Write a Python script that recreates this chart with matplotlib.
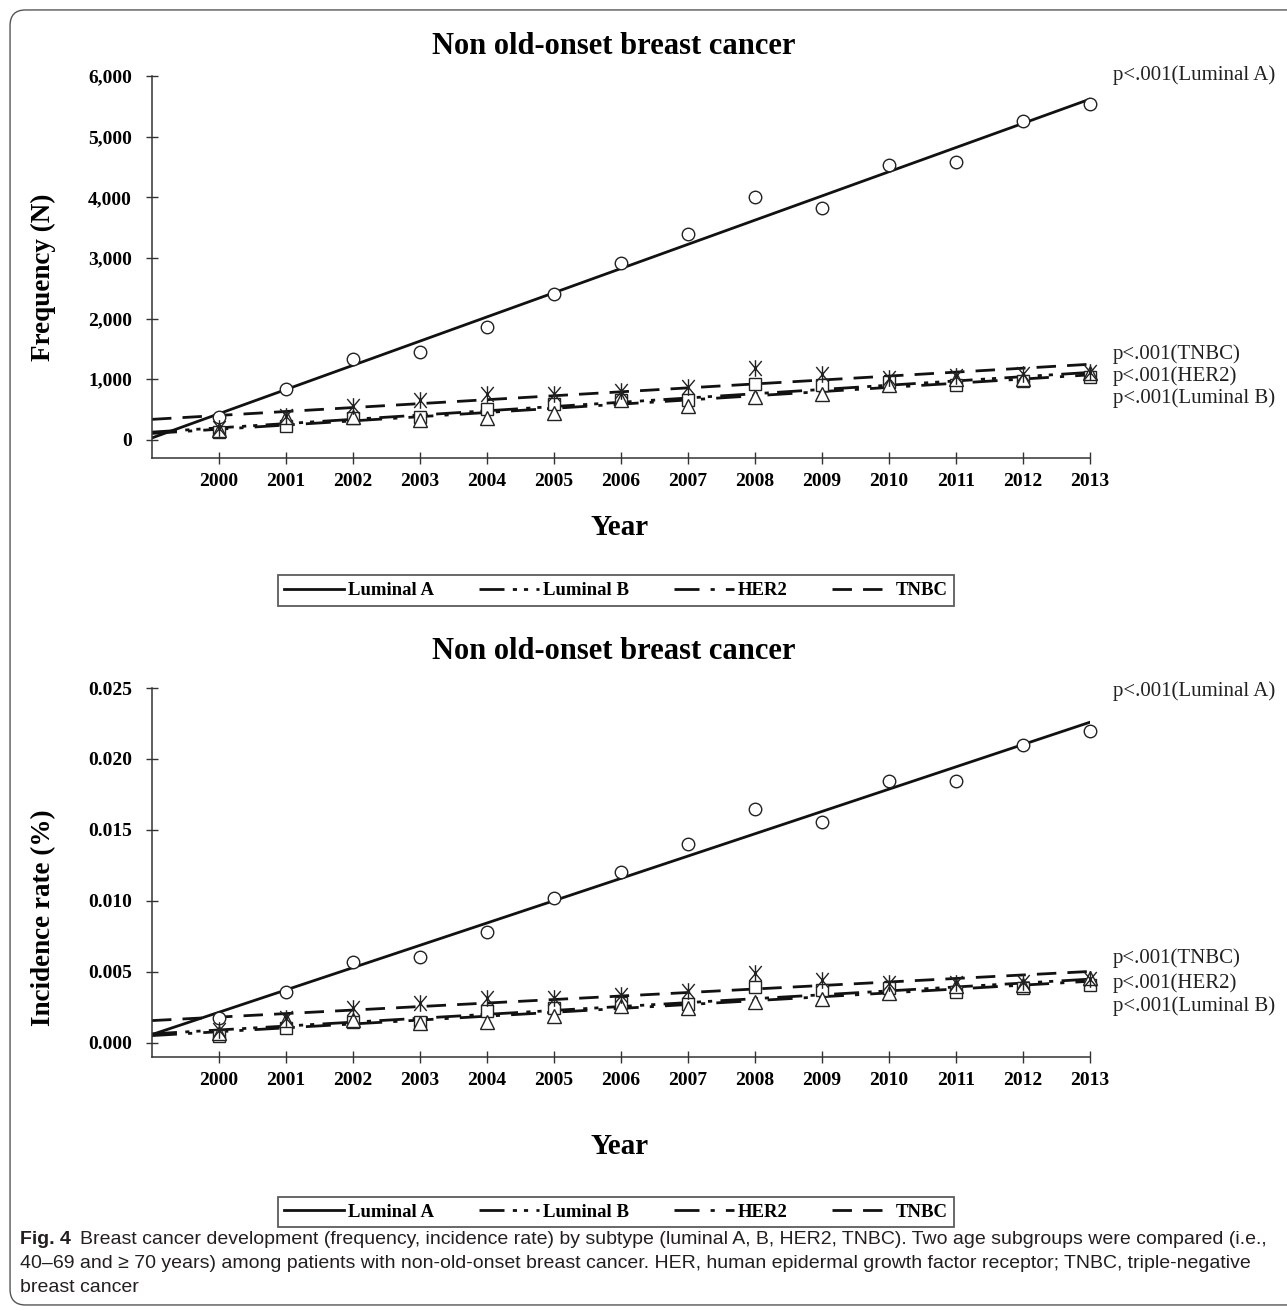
import matplotlib
matplotlib.use("Agg")
import matplotlib.pyplot as plt
import numpy as np
from matplotlib.lines import Line2D
from matplotlib.patches import FancyBboxPatch
from matplotlib.path import Path
from matplotlib.ticker import StrMethodFormatter

plt.rcParams['font.family'] = ['Liberation Serif', 'DejaVu Serif']

years = np.arange(2000, 2014)
subtypes = ['Luminal A', 'Luminal B', 'HER2', 'TNBC']

# frequency (N)
freq_lum_a = [382, 847, 1339, 1448, 1858, 2410, 2920, 3400, 4000, 3820, 4540, 4590, 5260, 5540]
freq_lum_b = [126, 230, 355, 372, 503, 585, 656, 656, 929, 902, 956, 900, 967, 1040]
freq_her2 = [170, 370, 383, 328, 355, 448, 650, 557, 710, 754, 900, 1000, 1011, 1100]
freq_tnbc = [202, 400, 557, 656, 749, 754, 809, 874, 1186, 1082, 1020, 1060, 1082, 1120]

# incidence rate (%)
inc_lum_a = [0.00174, 0.00361, 0.00573, 0.00608, 0.00784, 0.01019, 0.01207, 0.01401,
             0.01648, 0.01559, 0.01847, 0.01847, 0.02099, 0.02197]
inc_lum_b = [0.00045, 0.00103, 0.00150, 0.00150, 0.00225, 0.00249, 0.00278, 0.00275,
             0.00392, 0.00373, 0.00385, 0.00361, 0.00385, 0.00408]
inc_her2 = [0.00070, 0.00162, 0.00162, 0.00139, 0.00150, 0.00190, 0.00258, 0.00244,
            0.00291, 0.00308, 0.00350, 0.00400, 0.00410, 0.00456]
inc_tnbc = [0.00094, 0.00174, 0.00244, 0.00284, 0.00315, 0.00315, 0.00335, 0.00368,
            0.00495, 0.00444, 0.00420, 0.00425, 0.00432, 0.00449]

p_labels = ['p<.001(Luminal A)', 'p<.001(Luminal B)', 'p<.001(HER2)', 'p<.001(TNBC)']

# "Ж"-like asterisk: vertical stroke plus an X
star = Path([(0, -1), (0, 1), (-0.75, -0.9), (0.75, 0.9), (-0.75, 0.9), (0.75, -0.9)],
            [Path.MOVETO, Path.LINETO] * 3)
markers = ['o', 's', '^', star]
msizes = [9, 9, 10, 12]
styles = ['-', (0, (9, 3, 1.5, 2.5, 1.5, 3)), (0, (9, 4, 1.5, 4)), (0, (7, 4))]

fig = plt.figure(figsize=(12.87, 13.11), dpi=100)

# outer rounded frame
frame = FancyBboxPatch((0.0078, 0.0046), 1.05, 0.9878, boxstyle="round,pad=0,rounding_size=0.012",
                       transform=fig.transFigure, fill=False, edgecolor='#555555', linewidth=1.0)
fig.patches.append(frame)


def draw_panel(ax, series, ylim, yticks, fmt, ylabel, label_y, ylabel_y, xlabel_y, title_y):
    xs = np.array([1999, 2013])
    for vals, m, ms, ls in zip(series, markers, msizes, styles):
        ax.plot(years, vals, linestyle='none', marker=m, markersize=ms, markerfacecolor='white',
                markeredgecolor='#222222', markeredgewidth=1.0, zorder=3, clip_on=False)
        k, b = np.polyfit(years, vals, 1)
        ax.plot(xs, k * xs + b, color='#111111', linestyle=ls, linewidth=2.0, zorder=2)
    ax.set_xlim(1999, 2013)
    ax.set_ylim(*ylim)
    ax.set_xticks(years)
    ax.set_yticks(yticks)
    ax.yaxis.set_major_formatter(StrMethodFormatter(fmt))
    for s in ['top', 'right']:
        ax.spines[s].set_visible(False)
    for s in ['left', 'bottom']:
        ax.spines[s].set_linewidth(1.1)
        ax.spines[s].set_color('#333333')
    ax.tick_params(axis='both', direction='inout', length=9, width=1.0, color='#333333')
    ax.tick_params(axis='y', pad=10)
    ax.tick_params(axis='x', pad=6)
    for lab in ax.get_xticklabels() + ax.get_yticklabels():
        lab.set_fontweight('bold')
        lab.set_fontsize(14)
    ax.set_ylabel(ylabel, fontsize=19.5, fontweight='bold')
    ax.yaxis.set_label_coords(-0.102, ylabel_y)
    ax.set_xlabel('Year', fontsize=21, fontweight='bold')
    ax.xaxis.set_label_coords(0.499, xlabel_y)
    ax.text(0.4925, title_y, 'Non old-onset breast cancer', transform=ax.transAxes,
            ha='center', va='center', fontsize=22, fontweight='bold')
    for txt, yy in zip(p_labels, label_y):
        ax.text(1.0245, yy, txt, transform=ax.transAxes, ha='left', va='center',
                fontsize=15, color='#222222')


ax1 = fig.add_axes([0.1181, 0.6506, 0.7288, 0.2914])
draw_panel(ax1, [freq_lum_a, freq_lum_b, freq_her2, freq_tnbc], (-300, 6000),
           np.arange(0, 6001, 1000), '{x:,.0f}', 'Frequency (N)',
           [1.0026, 0.157, 0.2147, 0.272], 0.474, -0.1466, 1.078)

ax2 = fig.add_axes([0.1181, 0.1937, 0.7288, 0.2815])
draw_panel(ax2, [inc_lum_a, inc_lum_b, inc_her2, inc_tnbc], (-0.001, 0.025),
           np.arange(0, 0.0251, 0.005), '{x:.3f}', 'Incidence rate (%)',
           [0.9919, 0.1382, 0.2005, 0.2683], 0.379, -0.206, 1.0976)

handles = [Line2D([], [], color='#111111', linestyle=ls, linewidth=2.0) for ls in styles]
for yc in [0.5495, 0.0755]:
    leg = fig.legend(handles, subtypes, loc='center', bbox_to_anchor=(0.4786, yc), ncol=4,
                     frameon=True, fancybox=False, edgecolor='#333333', handlelength=3.2,
                     handletextpad=0.2, columnspacing=2.4, borderpad=0.35,
                     prop={'weight': 'bold', 'size': 13.5})
    leg.get_frame().set_linewidth(1.3)

# caption
cap_font = ['Liberation Sans Narrow', 'Liberation Sans', 'DejaVu Sans']
fig.text(20 / 1287, 1 - 1239 / 1311, 'Fig. 4', fontsize=14, fontweight='bold',
         family=cap_font, va='center', ha='left', color='#231f20')
fig.text(80 / 1287, 1 - 1239 / 1311,
         'Breast cancer development (frequency, incidence rate) by subtype (luminal A, B, HER2, TNBC). '
         'Two age subgroups were compared (i.e.,',
         fontsize=14, family=cap_font, va='center', ha='left', color='#231f20')
fig.text(20 / 1287, 1 - 1263 / 1311,
         '40\u201369 and \u2265 70 years) among patients with non-old-onset breast cancer. '
         'HER, human epidermal growth factor receptor; TNBC, triple-negative',
         fontsize=14, family=cap_font, va='center', ha='left', color='#231f20')
fig.text(20 / 1287, 1 - 1288 / 1311, 'breast cancer', fontsize=14, family=cap_font,
         va='center', ha='left', color='#231f20')

fig.savefig('out.png', dpi=100)
